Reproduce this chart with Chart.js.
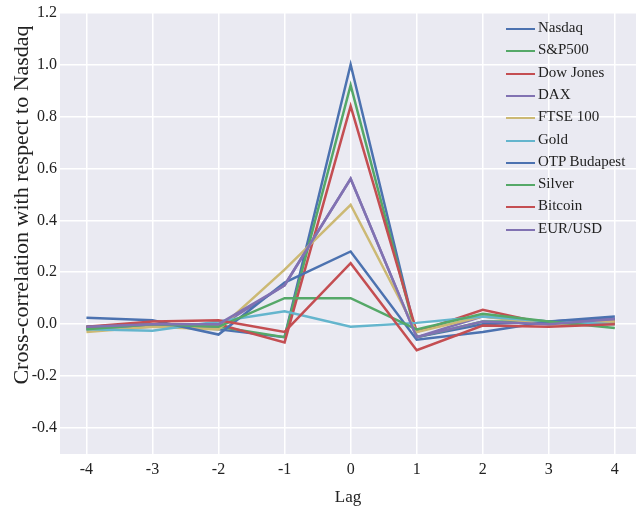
<!DOCTYPE html>
<html>
<head>
    <title>Cross-correlation with respect to Nasdaq</title>
    <script src="https://cdn.jsdelivr.net/npm/chart.js"></script>
    <style>
        body { margin: 0; background: #ffffff; }
        #wrap { position: relative; width: 636px; height: 512px; }
        #legend {
            position: absolute;
            left: 506px;
            top: 16px;
            font-family: "Liberation Serif", serif;
            font-size: 15px;
            color: #222;
        }
        #legend div { position: absolute; left: 0; height: 22px; line-height: 22px; white-space: nowrap; }
        #legend span.swatch {
            display: inline-block;
            width: 29px;
            height: 2px;
            vertical-align: middle;
            margin-right: 3px;
        }
    </style>
</head>
<body>
    <div id="wrap">
        <canvas id="xcorrChart" width="636" height="512"></canvas>
        <div id="legend"></div>
    </div>

    <script>
        // lags on the x axis
        const lags = [-4, -3, -2, -1, 0, 1, 2, 3, 4];

        // cross-correlation values
        const nasdaq   = [-0.01,  0.00, -0.02, -0.05, 1.00, -0.05,  0.00,  0.01,  0.02];
        const sp500    = [-0.01,  0.00, -0.01, -0.05, 0.92, -0.05,  0.01,  0.01,  0.01];
        const dowJones = [-0.02,  0.00,  0.00, -0.07, 0.84, -0.03,  0.055, 0.00,  0.01];
        const dax      = [-0.02, -0.01, -0.01,  0.15, 0.56, -0.05,  0.03,  0.01,  0.02];
        const ftse100  = [-0.03, -0.01, -0.02,  0.21, 0.46, -0.03,  0.03,  0.00,  0.01];
        const gold     = [-0.02, -0.025, 0.01,  0.05, -0.01, 0.005, 0.03,  0.01,  0.00];
        const otp      = [ 0.025, 0.015, -0.04, 0.16, 0.28, -0.06, -0.03,  0.01,  0.03];
        const silver   = [-0.02,  0.00, -0.01,  0.10, 0.10, -0.02,  0.04,  0.01, -0.015];
        const bitcoin  = [-0.01,  0.01,  0.015, -0.03, 0.235, -0.10, -0.005, -0.01, 0.00];
        const eurUsd   = [-0.01,  0.00,  0.00,  0.15, 0.56, -0.05,  0.01,  0.00,  0.02];

        const seriesNames = ['Nasdaq', 'S&P500', 'Dow Jones', 'DAX', 'FTSE 100', 'Gold',
                             'OTP Budapest', 'Silver', 'Bitcoin', 'EUR/USD'];
        const seriesValues = [nasdaq, sp500, dowJones, dax, ftse100, gold, otp, silver, bitcoin, eurUsd];
        const palette = ['#4C72B0', '#55A868', '#C44E52', '#8172B2', '#CCB974', '#64B5CD'];

        const yTicks = [-0.4, -0.2, 0.0, 0.2, 0.4, 0.6, 0.8, 1.0, 1.2];
        const yTitle = 'Cross-correlation with respect to Nasdaq';

        const serif = '"Liberation Serif", "Times New Roman", serif';

        const datasets = seriesNames.map((name, i) => ({
            label: name,
            data: lags.map((lag, j) => ({ x: lag, y: seriesValues[i][j] })),
            borderColor: palette[i % palette.length],
            backgroundColor: palette[i % palette.length],
            borderWidth: 2.5,
            pointRadius: 0,
            tension: 0,
            fill: false,
            order: seriesNames.length - i // later series on top, like matplotlib
        }));

        // grey panel behind the plot
        const panelBackground = {
            id: 'panelBackground',
            beforeDraw(chart) {
                const { ctx, chartArea } = chart;
                ctx.save();
                ctx.fillStyle = '#EAEAF2';
                ctx.fillRect(chartArea.left, chartArea.top,
                             chartArea.right - chartArea.left, chartArea.bottom - chartArea.top);
                ctx.restore();
            }
        };

        // y axis title, sits a bit above the middle of the axis like the original
        const yAxisTitle = {
            id: 'yAxisTitle',
            afterDraw(chart) {
                const ctx = chart.ctx;
                ctx.save();
                ctx.translate(22, 205);
                ctx.rotate(-Math.PI / 2);
                ctx.font = '22px ' + serif;
                ctx.fillStyle = '#222';
                ctx.textAlign = 'center';
                ctx.textBaseline = 'middle';
                ctx.fillText(yTitle, 0, 0);
                ctx.restore();
            }
        };

        const ctx = document.getElementById('xcorrChart').getContext('2d');
        const chart = new Chart(ctx, {
            type: 'line',
            data: { datasets: datasets },
            plugins: [panelBackground, yAxisTitle],
            options: {
                responsive: false,
                animation: false,
                layout: { padding: { top: 12, right: 0, bottom: 0, left: 0 } },
                plugins: {
                    legend: { display: false },
                    tooltip: { enabled: false }
                },
                scales: {
                    x: {
                        type: 'linear',
                        min: -4.4,
                        max: 4.32,
                        afterFit: scale => { scale.height = 58; },
                        ticks: {
                            stepSize: 1,
                            includeBounds: false,
                            color: '#222',
                            padding: 6,
                            font: { family: serif, size: 16 },
                            callback: v => String(v)
                        },
                        grid: { color: '#ffffff', lineWidth: 1.5, drawTicks: false },
                        border: { display: false },
                        title: {
                            display: true,
                            text: 'Lag',
                            color: '#222',
                            font: { family: serif, size: 17 },
                            padding: { top: 0, bottom: 4 }
                        }
                    },
                    y: {
                        min: -0.5,
                        max: 1.2,
                        afterFit: scale => { scale.width = 60; },
                        afterBuildTicks: scale => { scale.ticks = yTicks.map(v => ({ value: v })); },
                        ticks: {
                            color: '#222',
                            padding: 3,
                            font: { family: serif, size: 16 },
                            callback: v => v.toFixed(1)
                        },
                        grid: { color: '#ffffff', lineWidth: 1.5, drawTicks: false },
                        border: { display: false },
                        title: { display: false }
                    }
                }
            }
        });

        // legend inside the plot, built from the datasets
        const legendBox = document.getElementById('legend');
        chart.data.datasets.forEach((ds, i) => {
            const row = document.createElement('div');
            row.style.top = Math.round(i * 22.3) + 'px';
            const sw = document.createElement('span');
            sw.className = 'swatch';
            sw.style.background = ds.borderColor;
            row.appendChild(sw);
            row.appendChild(document.createTextNode(ds.label));
            legendBox.appendChild(row);
        });
    </script>
</body>
</html>
